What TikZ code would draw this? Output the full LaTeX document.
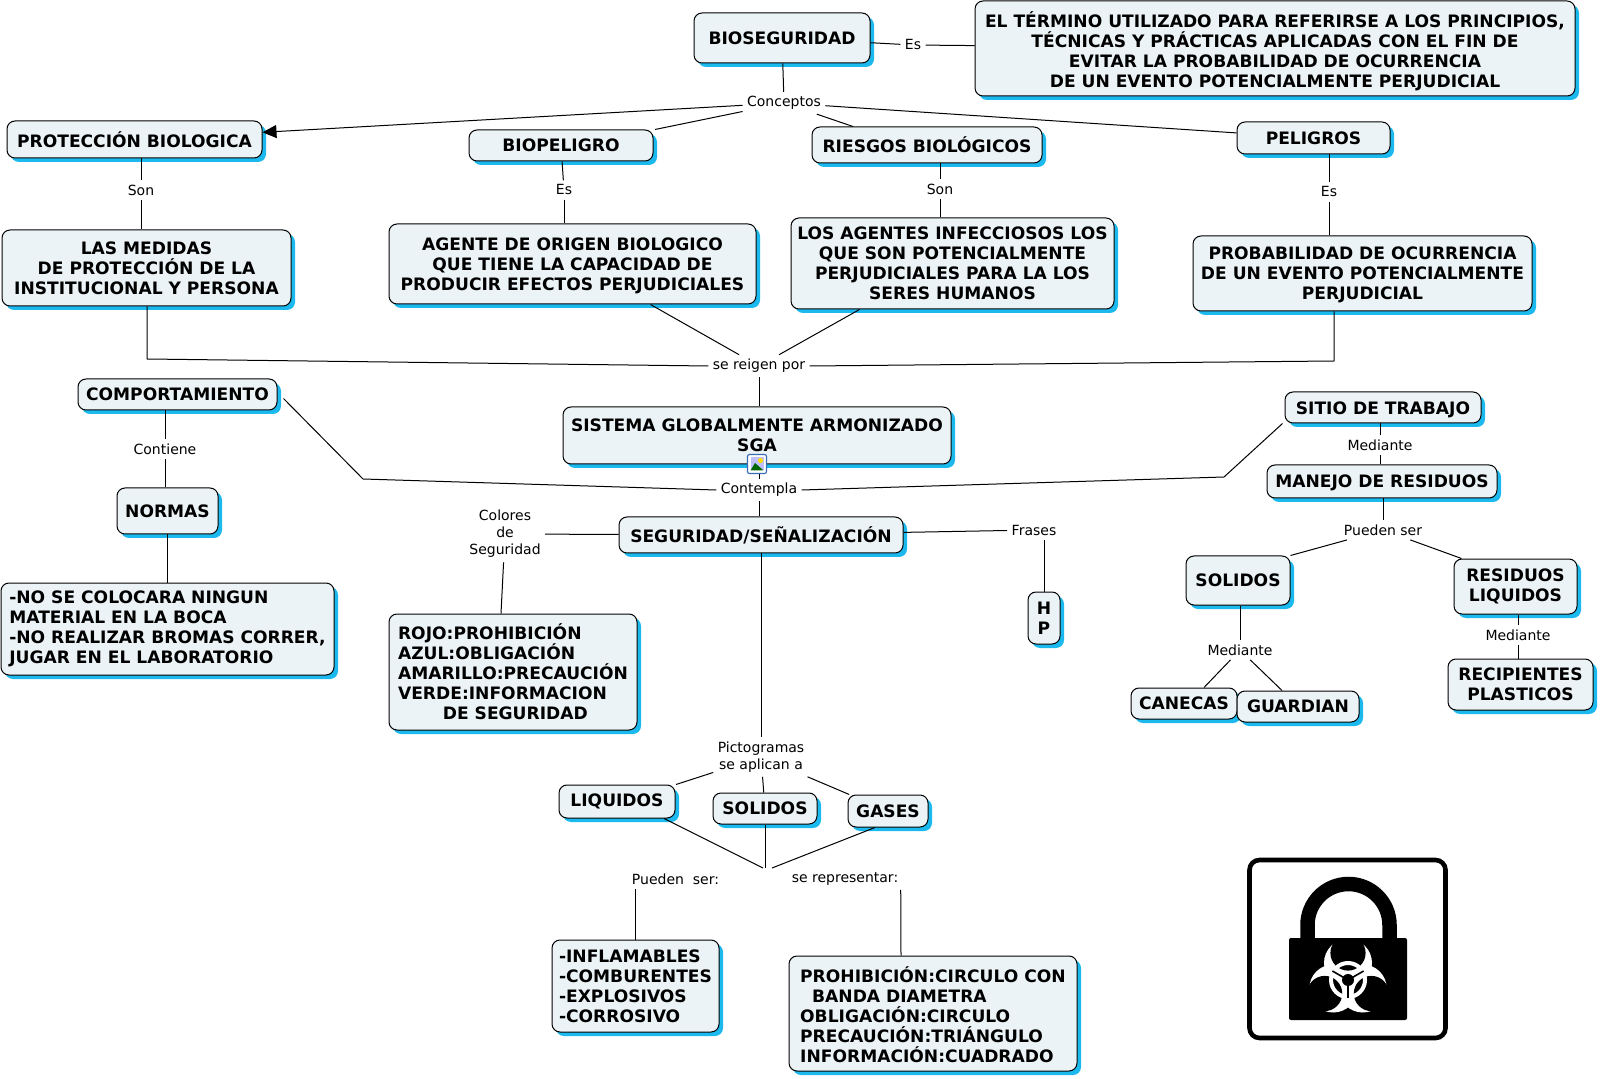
\documentclass[tikz,border=0pt]{standalone}
\usepackage{fontspec}
\setmainfont{DejaVu Sans}
\usepackage{tikz}
\usetikzlibrary{arrows.meta}
\usetikzlibrary{shadows}
\definecolor{fondo}{HTML}{EBF3F6}
\definecolor{sombra}{HTML}{1CB9EE}
\definecolor{marco}{HTML}{3A6CB5}
\newcommand{\baja}[1]{\rule{0pt}{#1}}
\tikzset{caja/.style 2 args={draw=black, fill=fondo, rounded corners=4pt, line width=.5pt,
    minimum width=#1*0.5pt, minimum height=#2*0.5pt, inner sep=0pt, align=center,
    font=\fontsize{8.55}{10}\selectfont\bfseries,
    copy shadow={shadow xshift=2pt, shadow yshift=-2pt, fill=sombra, draw=none}}}
\tikzset{enlace/.style={inner sep=2pt, align=center, font=\fontsize{7}{8.5}\selectfont}}

\begin{document}
\begin{tikzpicture}[x=0.5pt, y=-0.5pt, line width=.5pt]
  \useasboundingbox (0,0) rectangle (1600,1079);
  % concept boxes
  \node [caja={176}{50}] (bioseg) at (782, 38) {BIOSEGURIDAD};
  \node [caja={600}{95}] (definicion) at (1275, 48.5) {\baja{10.9pt}EL TÉRMINO UTILIZADO PARA REFERIRSE A LOS PRINCIPIOS,\\TÉCNICAS Y PRÁCTICAS APLICADAS CON EL FIN DE\\EVITAR LA PROBABILIDAD DE OCURRENCIA\\DE UN EVENTO POTENCIALMENTE PERJUDICIAL};
  \node [caja={255}{37}] (proteccion) at (134.5, 139.5) {PROTECCIÓN BIOLOGICA};
  \node [caja={184}{31}] (biopeligro) at (561, 145.5) {BIOPELIGRO};
  \node [caja={230}{36}] (riesgos) at (927, 145) {RIESGOS BIOLÓGICOS};
  \node [caja={153}{32}] (peligros) at (1313.5, 138) {PELIGROS};
  \node [caja={289}{76}] (medidas) at (146.5, 268) {LAS MEDIDAS\\DE PROTECCIÓN DE LA\\INSTITUCIONAL Y PERSONA};
  \node [caja={367}{80}] (agente) at (572.5, 264) {\baja{8.2pt}AGENTE DE ORIGEN BIOLOGICO\\QUE TIENE LA CAPACIDAD DE\\PRODUCIR EFECTOS PERJUDICIALES};
  \node [caja={323}{91}] (agentes) at (952.5, 263.5) {LOS AGENTES INFECCIOSOS LOS\\QUE SON POTENCIALMENTE\\PERJUDICIALES PARA LA LOS\\SERES HUMANOS};
  \node [caja={339}{75}] (probabilidad) at (1362.5, 273.5) {\baja{8.2pt}PROBABILIDAD DE OCURRENCIA\\DE UN EVENTO POTENCIALMENTE\\PERJUDICIAL};
  \node [caja={199}{31}] (comportamiento) at (177.5, 394.5) {COMPORTAMIENTO};
  \node [caja={388}{57}] (sistema) at (757, 435.5) {SISTEMA GLOBALMENTE ARMONIZADO\\SGA};
  \node [caja={284}{36}] (seguridad) at (761, 535) {SEGURIDAD/SEÑALIZACIÓN};
  \node [caja={196}{31}] (sitio) at (1383, 407.5) {\baja{9.2pt}SITIO DE TRABAJO};
  \node [caja={230}{33}] (manejo) at (1382, 481.5) {\baja{8.2pt}MANEJO DE RESIDUOS};
  \node [caja={101}{46}] (normas) at (167.5, 511) {NORMAS};
  \node [caja={333}{92}, align=left] (reglas) at (167.5, 629) {-NO SE COLOCARA NINGUN\\MATERIAL EN LA BOCA\\-NO REALIZAR BROMAS CORRER,\\JUGAR EN EL LABORATORIO};
  \node [caja={248}{116}, align=left] (colores) at (513, 672) {ROJO:PROHIBICIÓN\\AZUL:OBLIGACIÓN\\AMARILLO:PRECAUCIÓN\\VERDE:INFORMACION\\\hspace*{22.4pt}DE SEGURIDAD};
  \node [caja={32}{52}] (hp) at (1044, 618) {H\\P};
  \node [caja={104}{49}] (solidos) at (1238, 580.5) {SOLIDOS};
  \node [caja={123}{55}] (residuos) at (1515.5, 586.5) {RESIDUOS\\LIQUIDOS};
  \node [caja={106}{31}] (canecas) at (1184, 703.5) {CANECAS};
  \node [caja={122}{31}] (guardian) at (1298, 706.5) {GUARDIAN};
  \node [caja={145}{51}] (recipientes) at (1520.5, 684.5) {RECIPIENTES\\PLASTICOS};
  \node [caja={116}{33}] (liquidos) at (617, 801.5) {LIQUIDOS};
  \node [caja={104}{31}] (solidosb) at (765, 808.5) {SOLIDOS};
  \node [caja={80}{32}] (gases) at (888, 811) {GASES};
  \node [caja={167}{92}, align=left] (tipos) at (635.5, 986) {-INFLAMABLES\\-COMBURENTES\\-EXPLOSIVOS\\-CORROSIVO};
  \node [caja={288}{115}, align=left] (formas) at (933, 1013.5) {\baja{8.9pt}PROHIBICIÓN:CIRCULO CON\\\hspace*{6pt}BANDA DIAMETRA\\OBLIGACIÓN:CIRCULO\\PRECAUCIÓN:TRIÁNGULO\\INFORMACIÓN:CUADRADO};
  % linking phrases
  \node [enlace] (es) at (913, 45) {Es}
    edge (bioseg)
    edge (definicion);
  \node [enlace] (conceptos) at (784, 103) {Conceptos}
    edge (bioseg)
    edge [-{Triangle[length=7pt, width=6.5pt]}] (proteccion)
    edge ([xshift=47pt]biopeligro.north)
    edge ([xshift=-37pt]riesgos.north)
    edge (peligros);
  \node [enlace] (son) at (141, 190) {Son}
    edge (son |- proteccion.south)
    edge (son |- medidas.north);
  \node [enlace] (esb) at (564, 190) {Es}
    edge (biopeligro)
    edge (esb |- agente.north);
  \node [enlace] (sonb) at (940, 189) {Son}
    edge (sonb |- riesgos.south)
    edge (sonb |- agentes.north);
  \node [enlace] (esc) at (1329, 192) {Es}
    edge (esc |- peligros.south)
    edge (esc |- probabilidad.north);
  \node [enlace] (reigen) at (759, 366) {se reigen por}
    edge (reigen |- sistema.north)
    edge ([xshift=39pt]agente.south)
    edge ([xshift=-46.5pt]agentes.south);
  \coordinate (codoa) at (147, 359);
  \coordinate (codob) at (1334, 361);
  \draw (medidas.south -| codoa) -- (codoa) -- (reigen.west);
  \draw (probabilidad.south -| codob) -- (codob) -- (reigen.east);
  \node [enlace] (contiene) at (165, 449) {Contiene}
    edge (comportamiento.south -| contiene)
    edge (normas.north -| contiene);
  \draw (normas) -- (reglas);
  \node [enlace] (contempla) at (759, 490) {Contempla}
    edge (contempla |- seguridad.north)
    edge (contempla |- sistema.south);
  \coordinate (codoc) at (363, 479);
  \coordinate (codod) at (1224, 477);
  \draw ([xshift=3pt, yshift=-2pt]comportamiento.east) -- (codoc) -- (contempla.west);
  \draw ([xshift=-1pt]sitio.south west) -- (codod) -- (contempla.east);
  \node [enlace] (mediante) at (1380, 445) {Mediante}
    edge (mediante |- sitio.south)
    edge (mediante |- manejo.north);
  \node [enlace] (puedenb) at (1383, 530) {Pueden ser}
    edge (puedenb |- manejo.south)
    edge (solidos.north east)
    edge ([xshift=-27pt]residuos.north);
  \node [enlace] (medianteb) at (1240, 650) {Mediante}
    edge (medianteb |- solidos.south)
    edge ([xshift=10pt]canecas.north)
    edge ([xshift=-8pt]guardian.north);
  \node [enlace] (mediantec) at (1518, 635) {Mediante}
    edge (mediantec |- residuos.south)
    edge (mediantec |- recipientes.north);
  \node [enlace] (seguridadcolor) at (505, 534) {Colores\\de\\Seguridad}
    edge (seguridad)
    edge ([xshift=-6pt]colores.north);
  \node [enlace] (frases) at (1034, 530) {Frases}
    edge (seguridad);
  \draw (frases.south -| hp.north) -- (hp.north);
  \node [enlace] (pictogramas) at (761, 757) {Pictogramas\\se aplican a}
    edge (pictogramas |- seguridad.south)
    edge ([xshift=29.5pt]liquidos.north)
    edge (solidosb)
    edge (gases);
  \coordinate (rep) at (765, 868);
  \draw ([xshift=23.5pt]liquidos.south) -- ([xshift=-1pt]rep);
  \draw (solidosb.south) -- (rep);
  \draw ([xshift=-6.5pt]gases.south) -- ([xshift=3.5pt]rep);
  \node [enlace] (pueden) at (675.5, 879) {Pueden\ \ ser:};
  \node [enlace] (representar) at (845, 879) {se representar:};
  \draw (pueden.south -| tipos.north) -- (tipos.north);
  \draw ([xshift=-1pt]representar.south east) -- ([xshift=-16pt]formas.north);
  % image icon on the SGA box
  \node [draw=marco, fill=white, rounded corners=1pt, minimum size=9.5pt, inner sep=0pt, line width=.6pt] (icono) at (757, 464) {};
  \fill [blue!25] (750.5,457.5) rectangle (763.5,470.5);
  \fill [green!40!black] (750.5,470.5) -- (755,463) -- (763.5,470.5) -- cycle;
  \fill [yellow!80!orange] (760.5,460.5) circle (1.3pt);
  % biohazard lock
  \node [draw=black, line width=2.3pt, rounded corners=5pt, minimum width=98pt, minimum height=89pt, inner sep=0pt] (candado) at (1347.5, 949) {};
  \coordinate (bio) at (1348, 980);
  \draw [line width=7.25pt] (1307.5,940) -- (1307.5,925) arc [start angle=180, end angle=0, radius=20.5pt] -- (1389.5,940);
  \fill [rounded corners=1pt] (1289,938) rectangle (1407,1020);
  \begin{scope}
    \clip (1289,938) rectangle (1407,1020);
    \foreach \a in {90,210,330}
      \fill [white] ([shift={(\a:8.5pt)}]bio) circle (12pt);
    \foreach \a in {90,210,330}
      \fill [black] ([shift={(\a:13.5pt)}]bio) circle (8.8pt);
  \end{scope}
  \draw [white, line width=2pt] (bio) circle (8.5pt);
  \foreach \a in {270,30,150}
    \draw [black, line width=.8pt] (bio) -- ++(\a:9pt);
  \fill [black] (bio) circle (3pt);
\end{tikzpicture}
\end{document}
